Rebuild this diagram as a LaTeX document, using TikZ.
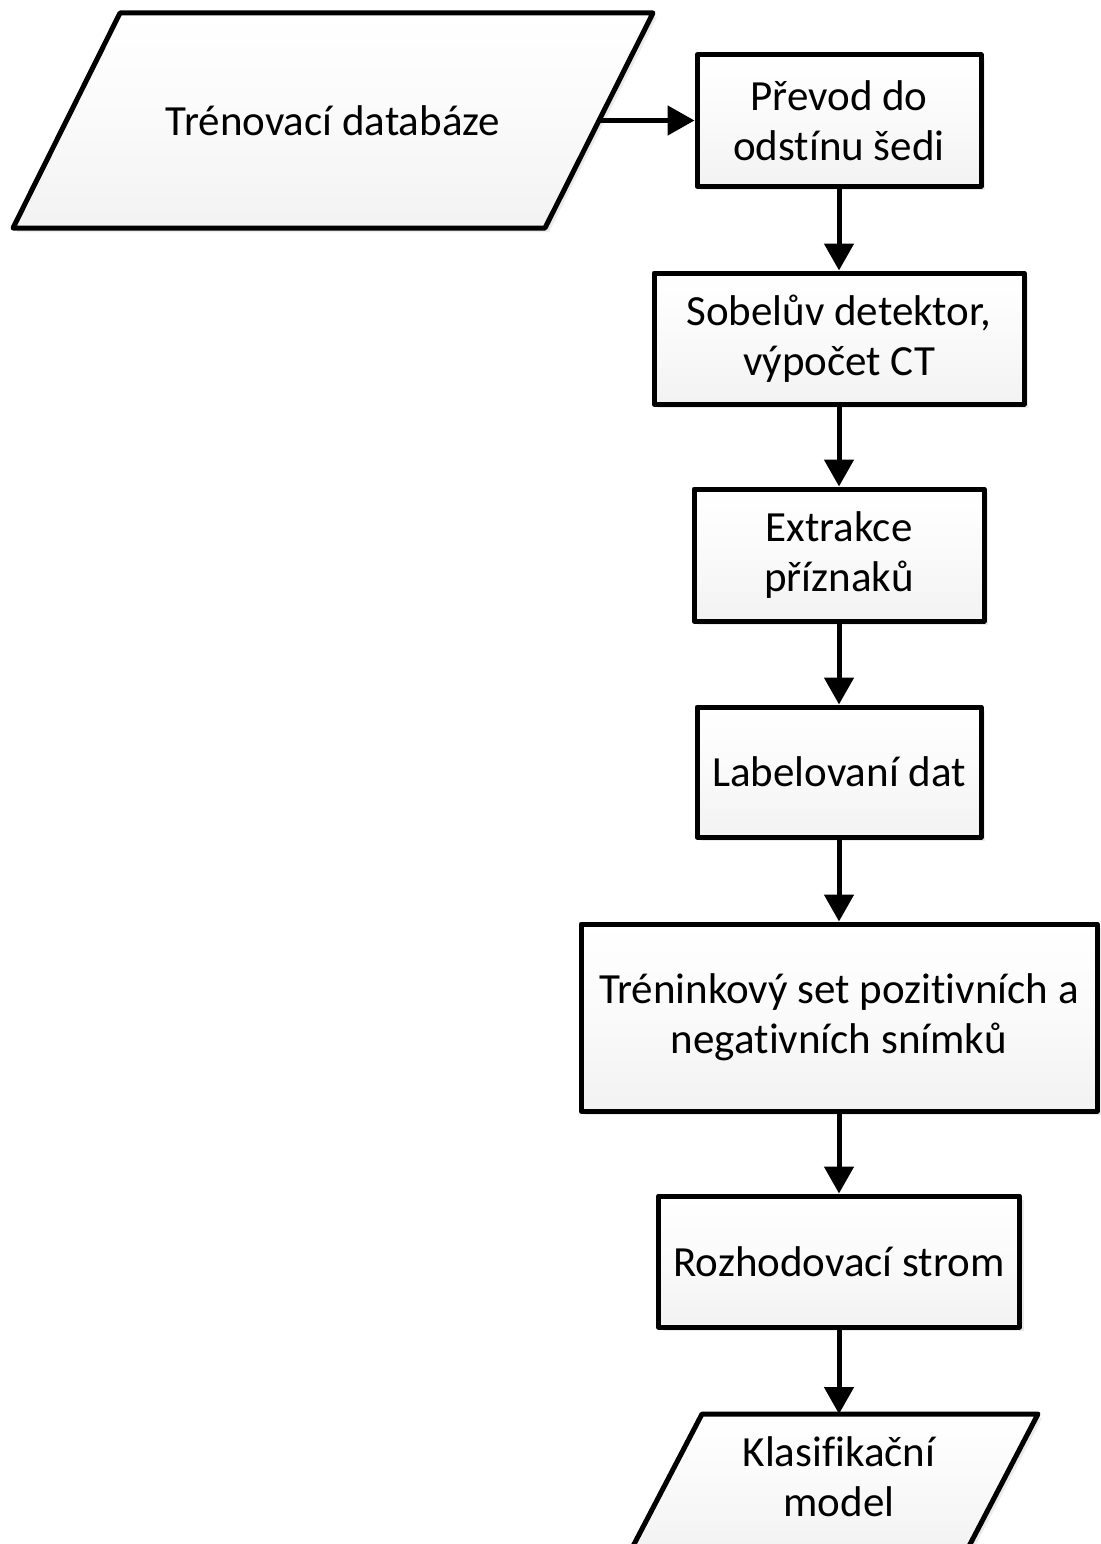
\documentclass[tikz,border=0pt]{standalone}
\usepackage{fontspec}
\setmainfont{Carlito}[Ligatures=NoCommon]
\usetikzlibrary{arrows.meta,shadows}
\begin{document}
\begin{tikzpicture}[x=1pt,y=-1pt,
  flowshadow/.style={drop shadow={shadow xshift=4pt,shadow yshift=-4pt,fill=black!20,opacity=0.4}},
  flowfill/.style={top color=white,bottom color=black!5,middle color=black!2,draw=black,line width=5pt,line join=round},
  flowtext/.style={align=center,font=\fontsize{43}{50}\selectfont},
  procbox/.style={flowfill,flowshadow,rectangle,flowtext,inner sep=0pt},
  iolabel/.style={rectangle,flowtext,inner sep=0pt,outer sep=0pt},
  flow/.style={line width=5pt,-{Triangle[length=27pt,width=29pt]}}
]
\useasboundingbox (0,0) rectangle (1100,1544);

% input: training database
\path[flowfill,flowshadow] (120,13) -- (653,13) -- (545,228) -- (13,228) -- cycle;
\node[iolabel,minimum width=532pt,minimum height=215pt] (db) at (333,120.5) {Trénovací databáze};

% processing steps
\node[procbox,minimum width=284pt,minimum height=131pt] (gray)  at (839,120.5)  {Převod do\\odstínu šedi};
\node[procbox,minimum width=370pt,minimum height=131pt] (sobel) at (839,338.5)  {Sobelův detektor,\\výpočet CT};
\node[procbox,minimum width=290pt,minimum height=132pt] (feat)  at (839,555)    {Extrakce\\příznaků};
\node[procbox,minimum width=284pt,minimum height=130pt] (label) at (839,772)    {Labelovaní dat};
\node[procbox,minimum width=516pt,minimum height=187pt] (train) at (839,1017.5) {Tréninkový set pozitivních a\\negativních snímků};
\node[procbox,minimum width=361pt,minimum height=131pt] (tree)  at (839,1261.5) {Rozhodovací strom};

% output: classification model
\path[flowfill,flowshadow] (702,1414) -- (1038,1414) -- (967,1550) -- (631,1550) -- cycle;
\node[iolabel,minimum width=300pt,minimum height=126pt] (model) at (839,1477) {Klasifikační\\model};

% connectors
\draw[flow] (db.east) -- (gray.west);
\draw[flow] (gray.south) -- (sobel.north);
\draw[flow] (sobel.south) -- (feat.north);
\draw[flow] (feat.south) -- (label.north);
\draw[flow] (label.south) -- (train.north);
\draw[flow] (train.south) -- (tree.north);
\draw[flow] (tree.south) -- (model.north);
\end{tikzpicture}
\end{document}
